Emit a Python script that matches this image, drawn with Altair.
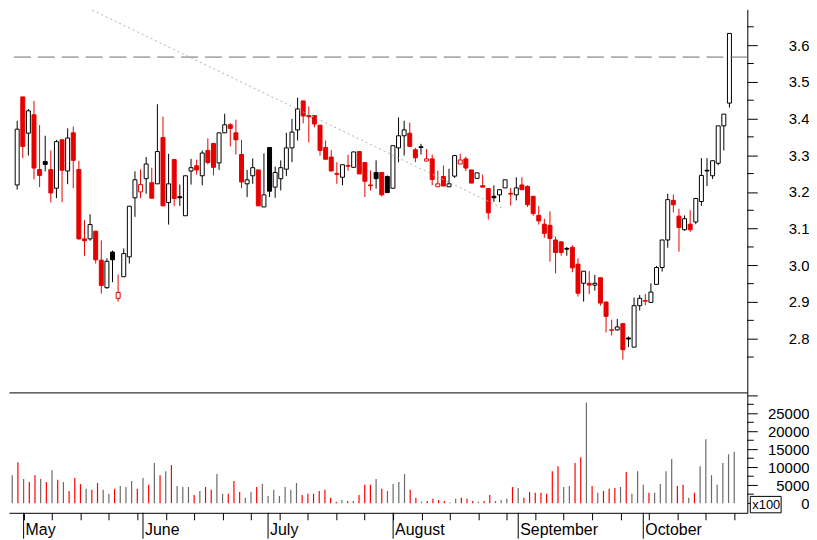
import altair as alt
import pandas as pd
import numpy as np

# ---------------- data ----------------
opens = [3.219, 3.459, 3.360, 3.410, 3.261, 3.283, 3.261, 3.210, 3.342, 3.257,
         3.361, 3.261, 3.072, 3.072, 3.093, 3.014, 2.939, 3.036, 2.910, 2.969,
         3.023, 3.184, 3.200, 3.236, 3.225, 3.222, 3.348, 3.171, 3.288, 3.187,
         3.135, 3.257, 3.271, 3.244, 3.313, 3.332, 3.279, 3.361, 3.383, 3.361,
         3.302, 3.222, 3.244, 3.260, 3.159, 3.321, 3.213, 3.236, 3.262, 3.320,
         3.369, 3.448, 3.408, 3.408, 3.382, 3.321, 3.295, 3.250, 3.240, 3.272,
         3.267, 3.310, 3.280, 3.219, 3.253, 3.253, 3.242, 3.210, 3.320, 3.353,
         3.360, 3.315, 3.323, 3.284, 3.290, 3.214, 3.242, 3.214, 3.243, 3.276,
         3.290, 3.260, 3.237, 3.217, 3.209, 3.188, 3.192, 3.211, 3.196, 3.192,
         3.219, 3.215, 3.188, 3.136, 3.112, 3.109, 3.069, 3.064, 3.046, 3.049,
         3.003, 2.951, 2.951, 2.946, 2.966, 2.900, 2.824, 2.824, 2.841, 2.802,
         2.777, 2.890, 2.902, 2.899, 2.948, 2.994, 3.069, 3.177, 3.134, 3.097,
         3.112, 3.118, 3.174, 3.259, 3.244, 3.278, 3.380, 3.442]
highs = [3.394, 3.459, 3.426, 3.448, 3.382, 3.353, 3.313, 3.342, 3.342, 3.373,
         3.378, 3.285, 3.123, 3.139, 3.093, 3.068, 3.019, 3.040, 2.975, 3.046,
         3.161, 3.256, 3.261, 3.295, 3.266, 3.439, 3.405, 3.304, 3.288, 3.220,
         3.244, 3.290, 3.288, 3.313, 3.346, 3.332, 3.361, 3.413, 3.387, 3.397,
         3.342, 3.260, 3.291, 3.260, 3.305, 3.321, 3.269, 3.286, 3.361, 3.399,
         3.457, 3.448, 3.433, 3.408, 3.382, 3.340, 3.314, 3.281, 3.274, 3.301,
         3.309, 3.310, 3.280, 3.258, 3.286, 3.253, 3.245, 3.326, 3.403, 3.394,
         3.389, 3.320, 3.331, 3.317, 3.302, 3.258, 3.272, 3.263, 3.299, 3.304,
         3.296, 3.260, 3.252, 3.247, 3.209, 3.218, 3.206, 3.233, 3.211, 3.240,
         3.240, 3.218, 3.188, 3.161, 3.127, 3.147, 3.078, 3.064, 3.050, 3.055,
         3.019, 2.984, 2.984, 2.974, 2.966, 2.900, 2.852, 2.854, 2.841, 2.806,
         2.912, 2.919, 2.922, 2.951, 2.998, 3.069, 3.195, 3.193, 3.154, 3.136,
         3.150, 3.184, 3.292, 3.292, 3.285, 3.380, 3.412, 3.632]
lows = [3.206, 3.292, 3.299, 3.234, 3.213, 3.256, 3.171, 3.183, 3.172, 3.221,
        3.210, 3.070, 3.026, 3.067, 3.005, 2.923, 2.936, 2.954, 2.901, 2.969,
        3.005, 3.132, 3.183, 3.195, 3.183, 3.222, 3.162, 3.111, 3.162, 3.162,
        3.135, 3.220, 3.247, 3.218, 3.275, 3.245, 3.260, 3.361, 3.324, 3.302,
        3.210, 3.186, 3.222, 3.162, 3.159, 3.186, 3.184, 3.204, 3.243, 3.281,
        3.340, 3.387, 3.335, 3.376, 3.299, 3.289, 3.257, 3.222, 3.218, 3.258,
        3.267, 3.249, 3.186, 3.204, 3.209, 3.188, 3.198, 3.210, 3.281, 3.299,
        3.324, 3.281, 3.302, 3.284, 3.218, 3.214, 3.216, 3.214, 3.238, 3.276,
        3.257, 3.224, 3.237, 3.213, 3.125, 3.173, 3.172, 3.211, 3.163, 3.177,
        3.206, 3.159, 3.135, 3.111, 3.075, 3.010, 2.978, 3.026, 3.026, 2.981,
        2.915, 2.901, 2.921, 2.931, 2.890, 2.817, 2.809, 2.822, 2.743, 2.777,
        2.777, 2.877, 2.891, 2.899, 2.948, 2.983, 3.048, 3.144, 3.037, 3.094,
        3.091, 3.112, 3.162, 3.216, 3.235, 3.273, 3.313, 3.430]
closes = [3.371, 3.324, 3.421, 3.265, 3.245, 3.275, 3.197, 3.337, 3.259, 3.347,
          3.286, 3.072, 3.067, 3.111, 3.015, 2.945, 3.011, 3.015, 2.926, 3.032,
          3.161, 3.233, 3.220, 3.276, 3.183, 3.310, 3.162, 3.222, 3.182, 3.184,
          3.244, 3.266, 3.260, 3.306, 3.280, 3.267, 3.361, 3.383, 3.373, 3.342,
          3.227, 3.233, 3.266, 3.162, 3.192, 3.202, 3.253, 3.266, 3.320, 3.363,
          3.426, 3.407, 3.405, 3.385, 3.313, 3.289, 3.257, 3.248, 3.274, 3.270,
          3.309, 3.249, 3.229, 3.217, 3.236, 3.192, 3.198, 3.326, 3.353, 3.369,
          3.324, 3.293, 3.321, 3.290, 3.234, 3.222, 3.216, 3.222, 3.299, 3.287,
          3.265, 3.224, 3.252, 3.213, 3.143, 3.184, 3.206, 3.233, 3.194, 3.211,
          3.206, 3.165, 3.141, 3.121, 3.087, 3.073, 3.035, 3.035, 3.044, 2.993,
          2.924, 2.984, 2.946, 2.951, 2.897, 2.861, 2.823, 2.832, 2.770, 2.799,
          2.890, 2.910, 2.904, 2.927, 2.994, 3.069, 3.179, 3.165, 3.103, 3.127,
          3.097, 3.182, 3.245, 3.257, 3.285, 3.380, 3.412, 3.632]
volumes = [7800, 11400, 6700, 5900, 7800, 6700, 5900, 9200, 6500, 5900,
           3400, 7000, 5300, 4000, 3700, 5600, 3700, 2600, 4000, 4800,
           4500, 6200, 4000, 7000, 5100, 11200, 7800, 8900, 10600, 4800,
           4600, 4500, 2300, 3400, 4500, 3700, 8100, 2600, 2600, 6200,
           3100, 1500, 3100, 4500, 5300, 2000, 3700, 2000, 4500, 3700,
           5600, 2300, 2600, 2600, 3400, 3700, 1500, 400, 900, 600,
           600, 2300, 5100, 5100, 6700, 4000, 3400, 5300, 5900, 8100,
           3700, 1500, 450, 600, 1200, 900, 600, 150, 1200, 1500,
           1200, 600, 400, 600, 2300, 600, 900, 1200, 4500, 4200,
           1500, 3100, 2900, 2900, 2600, 8900, 10300, 4500, 4800, 11200,
           12800, 28000, 4800, 2900, 3400, 4000, 4200, 4500, 8700, 2600,
           8900, 5100, 2900, 2900, 5300, 8900, 12300, 4800, 5100, 1500,
           2900, 10300, 17800, 7800, 5100, 11200, 13600, 14300]

month_names = ["May", "June", "July", "August", "September", "October"]
month_starts = [2, 23, 45, 67, 89, 111]
week_starts = [2, 7, 12, 17, 22, 27, 32, 37, 42, 47, 52, 57, 62, 67, 72, 77,
               82, 87, 92, 97, 102, 107, 112, 117, 122, 127]
price_ticks = [2.8, 2.9, 3.0, 3.1, 3.2, 3.3, 3.4, 3.5, 3.6]
price_minor = [2.75, 2.85, 2.95, 3.05, 3.15, 3.25, 3.35, 3.45, 3.55, 3.65]
vol_ticks = [0, 5000, 10000, 15000, 20000, 25000, 30000]
vol_minor = [2500, 7500, 12500, 17500, 22500, 27500]
resistance = [3.5675]
trend_idx = [10.2, 86.9]
trend_price = [3.719, 3.153]

# ---------------- derived table ----------------
RED = "#e60000"
VRED = "#ff0000"
VGRAY = "#6b6b6b"
df = pd.DataFrame({"idx": np.arange(len(closes)), "open": opens, "high": highs,
                   "low": lows, "close": closes, "vol": volumes})
prev = df["close"].shift(1)
down = (df["close"] <= prev).fillna(False)
df["col"] = np.where(down, RED, "black")
df["fillc"] = np.where(df["close"] > df["open"], "white", df["col"])
df["vcol"] = np.where((df["close"] < prev).fillna(False), VRED, VGRAY)

W = 742
PH = 385
VH = 121
FONT = "Liberation Sans"

xs = alt.Scale(domain=[-0.571, 129.3], nice=False, zero=False)
ys = alt.Scale(domain=[2.6536, 3.6976], nice=False, zero=False)
vs = alt.Scale(domain=[-2685, 30814], nice=False, zero=False)

base = alt.Chart(df)

wicks = base.mark_rule(strokeWidth=1, clip=True).encode(
    x=alt.X("idx:Q", scale=xs,
            axis=alt.Axis(domain=True, ticks=False, labels=False, grid=False,
                          title=None, domainColor="black")),
    y=alt.Y("low:Q", scale=ys,
            axis=alt.Axis(orient="right", values=price_ticks, format=".1f",
                          tickSize=10, tickColor="black", domainColor="black",
                          labelAlign="right", labelPadding=52, labelBaseline="middle",
                          labelFont=FONT, labelFontSize=15, labelColor="black",
                          grid=False, title=None)),
    y2="high:Q",
    color=alt.Color("col:N", scale=None),
)

bodies = base.mark_bar(size=4, strokeWidth=1, clip=True).encode(
    x=alt.X("idx:Q", scale=xs, axis=None),
    y=alt.Y("open:Q", scale=ys, axis=None),
    y2="close:Q",
    fill=alt.Fill("fillc:N", scale=None),
    stroke=alt.Stroke("col:N", scale=None),
)

res_line = alt.Chart(pd.DataFrame({"p": resistance})).mark_rule(
    color="#6e6e6e", strokeDash=[17, 7], strokeWidth=1
).encode(y=alt.Y("p:Q", scale=ys, axis=None))

trend = alt.Chart(pd.DataFrame({"i": trend_idx, "p": trend_price})).mark_line(
    color="#b0b0b0", strokeDash=[2, 3], strokeWidth=1, clip=True
).encode(x=alt.X("i:Q", scale=xs, axis=None), y=alt.Y("p:Q", scale=ys, axis=None))

pminor = alt.Chart(pd.DataFrame({"p": price_minor})).mark_rule(color="black").encode(
    y=alt.Y("p:Q", scale=ys, axis=None), x=alt.value(W), x2=alt.value(W + 6.5)
)

price = (
    alt.layer(wicks, bodies, res_line, trend, pminor)
    .resolve_axis(x="independent", y="independent")
    .properties(width=W, height=PH)
)

# ---------------- volume panel ----------------
vbars = alt.Chart(df).mark_rule(strokeWidth=1.2).encode(
    x=alt.X("idx:Q", scale=xs,
            axis=alt.Axis(values=week_starts, tickSize=7, labels=False, grid=False,
                          title=None, domainColor="black", tickColor="black")),
    y=alt.Y("vol:Q", scale=vs,
            axis=alt.Axis(orient="right", values=vol_ticks, format="d",
                          labelExpr="datum.value >= 30000 ? '' : datum.label",
                          tickSize=10, tickColor="black", domainColor="black",
                          labelAlign="right", labelPadding=52, labelBaseline="middle",
                          labelFont=FONT, labelFontSize=15, labelColor="black",
                          grid=False, title=None)),
    y2=alt.datum(0),
    color=alt.Color("vcol:N", scale=None),
)

vminor = alt.Chart(pd.DataFrame({"v": vol_minor})).mark_rule(color="black").encode(
    y=alt.Y("v:Q", scale=vs, axis=None), x=alt.value(W), x2=alt.value(W + 6.5)
)

months = pd.DataFrame({"i": month_starts, "m": month_names})
mticks = alt.Chart(months).mark_rule(color="black").encode(
    x=alt.X("i:Q", scale=xs, axis=None), y=alt.value(VH), y2=alt.value(VH + 26)
)
mlabels = alt.Chart(months).mark_text(
    align="left", baseline="alphabetic", dx=2, font=FONT, fontSize=16, color="black"
).encode(x=alt.X("i:Q", scale=xs, axis=None), y=alt.value(VH + 22), text="m:N")

unit = pd.DataFrame({"t": ["x100"]})
ubox = alt.Chart(unit).mark_rect(fill="white", stroke="black", strokeWidth=1).encode(
    x=alt.value(W + 3), x2=alt.value(W + 34), y=alt.value(VH - 16.5), y2=alt.value(VH)
)
utext = alt.Chart(unit).mark_text(
    align="left", baseline="alphabetic", font=FONT, fontSize=13, color="black"
).encode(x=alt.value(W + 5), y=alt.value(VH - 4), text="t:N")

volume = (
    alt.layer(vbars, vminor, mticks, mlabels, ubox, utext)
    .resolve_axis(x="independent", y="independent")
    .properties(width=W, height=VH)
)

chart = alt.vconcat(price, volume, spacing=0).properties(
    padding={"left": 0, "top": 0, "right": 0, "bottom": 0},
    background="white",
).configure_view(stroke=None)

chart.save("out.html", embed_options={"renderer": "svg", "actions": False})
